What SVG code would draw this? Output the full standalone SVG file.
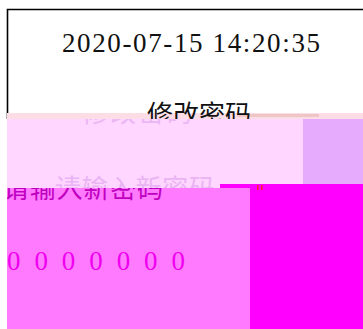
<svg xmlns="http://www.w3.org/2000/svg" width="363" height="329" viewBox="0 0 363 329">
  <style>
    .t { font-family: "Liberation Serif", "Noto Sans CJK SC", serif; font-size: 26px; }
    .d { font-family: "Liberation Serif", serif; font-size: 27px; }
  </style>
  <defs>
    <clipPath id="belowTop"><rect x="7" y="119" width="356" height="69"/></clipPath>
    <clipPath id="pinkArea"><rect x="7" y="188" width="243" height="141"/></clipPath>
  </defs>
  <rect x="0" y="0" width="363" height="329" fill="#ffffff"/>
  <g id="frame">
    <path d="M7.5 119 V9.5 H363" fill="none" stroke="#000" stroke-width="1.6"/>
  </g>
  <g id="time">
    <text class="d" x="62" y="52" textLength="258" lengthAdjust="spacing" fill="#111">2020-07-15 14:20:35</text>
  </g>
  <g id="title">
    <rect x="7" y="113" width="356" height="6" fill="#fcdde6"/>
    <rect x="237" y="114" width="82" height="3" fill="#efc6c6"/>
    <text class="t" x="147" y="124" fill="#111">修改密码</text>
  </g>
  <g id="panels">
    <rect x="7" y="119" width="213" height="69" fill="#ffd6ff"/>
    <rect x="220" y="119" width="83" height="65" fill="#ffd6ff"/>
    <rect x="303" y="119" width="60" height="65" fill="#e6abfd"/>
    <rect x="220" y="184" width="143" height="145" fill="#ff00ff"/>
    <rect x="7" y="188" width="243" height="141" fill="#ff7aff"/>
    <rect x="257" y="185" width="1.5" height="5" fill="#ff2020"/>
    <rect x="261" y="185" width="1.5" height="5" fill="#ff2020"/>
  </g>
  <g id="ghost-title" clip-path="url(#belowTop)">
    <text class="t" x="82" y="122" textLength="110" lengthAdjust="spacing" fill="#eab6f4">修改密码</text>
  </g>
  <g id="hint">
    <text class="t" x="55" y="198" textLength="160" lengthAdjust="spacing" fill="#e9b4f3" clip-path="url(#belowTop)">请输入新密码</text>
    <text class="t" x="3" y="198" textLength="160" lengthAdjust="spacing" fill="#c000c0" clip-path="url(#pinkArea)">请输入新密码</text>
  </g>
  <g id="digits">
    <text class="d" x="7" y="270" textLength="178" lengthAdjust="spacing" fill="#f000f0">0 0 0 0 0 0 0</text>
  </g>
</svg>
